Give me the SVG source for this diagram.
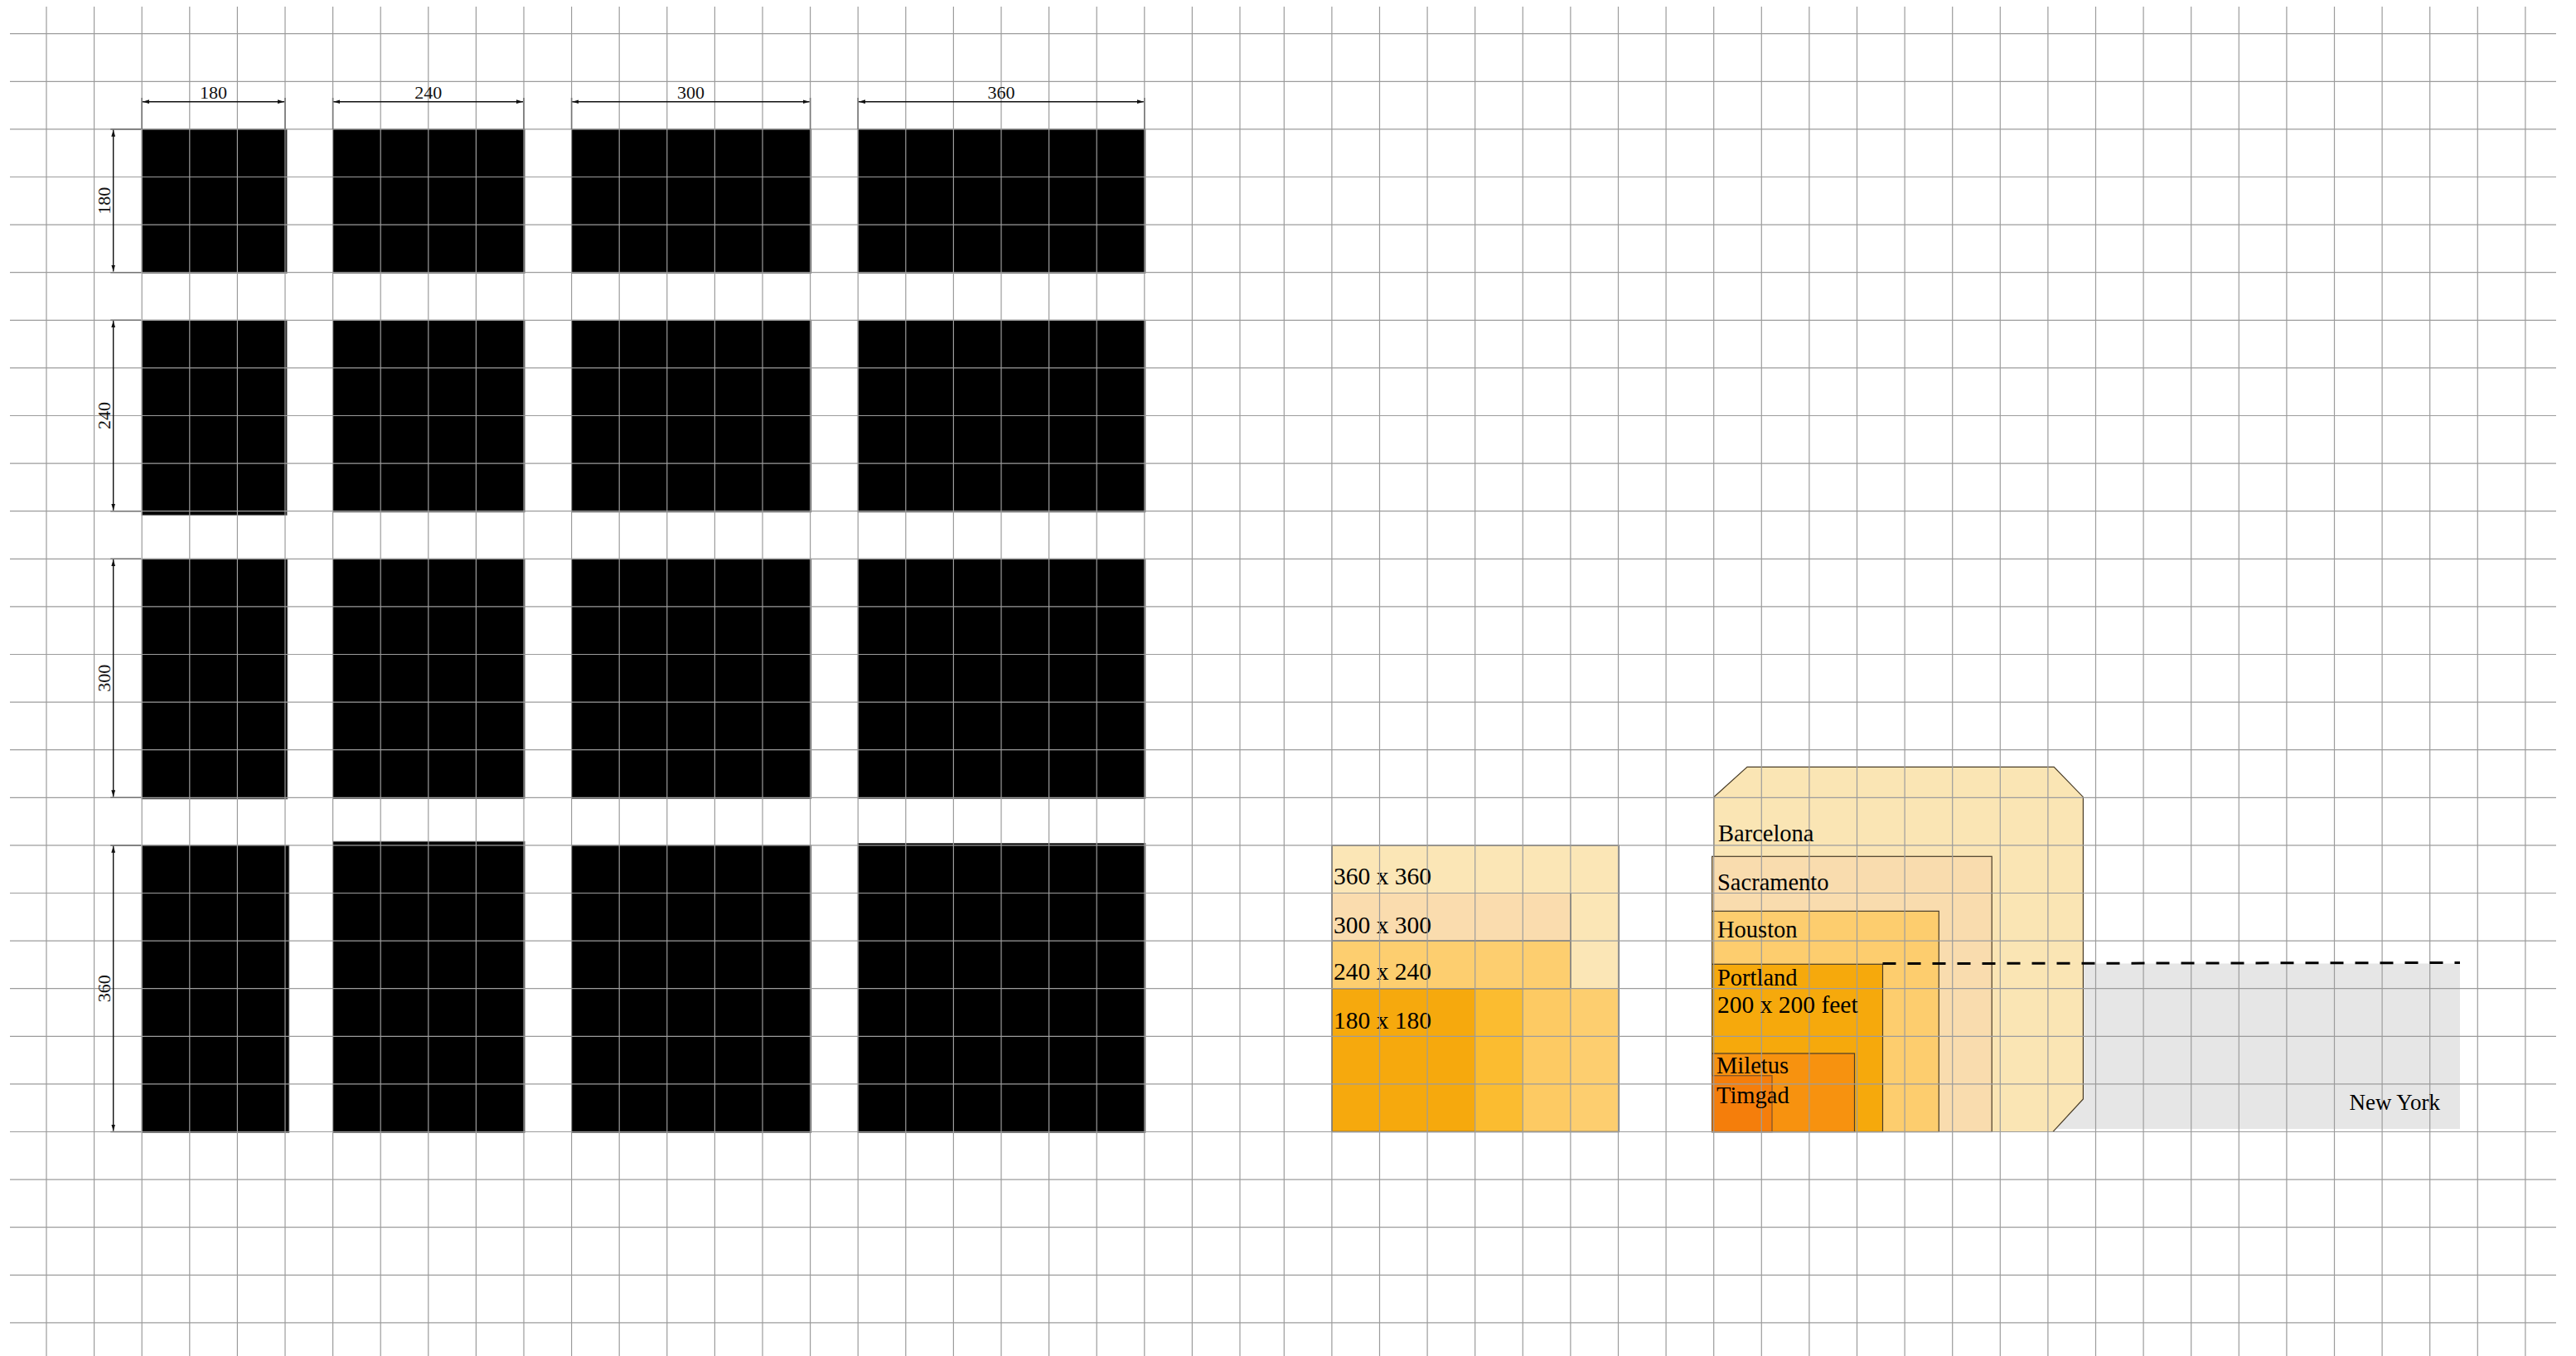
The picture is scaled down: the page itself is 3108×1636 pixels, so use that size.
<svg xmlns="http://www.w3.org/2000/svg" width="3108" height="1636" viewBox="0 0 3108 1636">
<style>
.lbl{font-family:"Liberation Serif","Times New Roman",serif;font-size:28.5px;fill:#000}
.num{font-size:29.5px}
.dim{font-family:"Liberation Serif","Times New Roman",serif;font-size:22px;fill:#111;text-anchor:middle}
.blk{fill:#000;stroke:#555;stroke-width:1}
.ext{stroke:#777;stroke-width:1.6;fill:none}
.dl{stroke:#111;stroke-width:1.4;fill:none;marker-start:url(#ah);marker-end:url(#ah)}
.box{stroke:#4a3d28;stroke-width:1.2}
.grid line{stroke:#9c9c9c;stroke-width:1.2}
</style>
<defs>
<marker id="ah" viewBox="0 0 10 6" refX="10" refY="3" markerWidth="8" markerHeight="5" markerUnits="userSpaceOnUse" orient="auto-start-reverse">
<path d="M0,0 L10,3 L0,6 z" fill="#111"/>
</marker>
</defs>
<rect x="0" y="0" width="3108" height="1636" fill="#fff"/>

<g id="blocks">
<rect class="blk" x="171.2" y="155.9" width="174.8" height="173.6"/>
<rect class="blk" x="401.6" y="155.9" width="231.4" height="173.6"/>
<rect class="blk" x="689.6" y="155.9" width="289" height="173.6"/>
<rect class="blk" x="1035.2" y="155.9" width="346.6" height="173.6"/>

<rect class="blk" x="171.2" y="386.3" width="174.8" height="235"/>
<rect class="blk" x="401.6" y="386.3" width="231.4" height="231.4"/>
<rect class="blk" x="689.6" y="386.3" width="289" height="231.4"/>
<rect class="blk" x="1035.2" y="386.3" width="346.6" height="231.4"/>

<rect class="blk" x="171.2" y="674.3" width="175.5" height="289.5"/>
<rect class="blk" x="401.6" y="674.3" width="231.4" height="289"/>
<rect class="blk" x="689.6" y="674.3" width="289" height="289"/>
<rect class="blk" x="1035.2" y="674.3" width="346.6" height="289"/>

<rect class="blk" x="171.2" y="1019.9" width="177.5" height="346.4"/>
<rect class="blk" x="401.6" y="1015.3" width="231.4" height="351"/>
<rect class="blk" x="689.6" y="1019.9" width="289" height="346.4"/>
<rect class="blk" x="1035.2" y="1017.5" width="346.6" height="348.8"/>
</g>

<g id="squares-left">
<rect x="1607" y="1019.9" width="346" height="345.6" fill="#FBE6B6"/>
<rect x="1607" y="1077.5" width="288" height="57.6" fill="#FADCAE"/>
<rect x="1607" y="1135.1" width="288" height="57.6" fill="#FDCE6F"/>
<rect x="1607" y="1192.7" width="172.8" height="172.8" fill="#F6A90D"/>
<rect x="1779.8" y="1192.7" width="57.6" height="172.8" fill="#FBBC30"/>
<rect x="1837.4" y="1192.7" width="57.6" height="172.8" fill="#FDCA63"/>
<rect x="1895" y="1192.7" width="58" height="172.8" fill="#FDCE6F"/>
<path d="M1607,1019.9 H1953 V1365.5 H1607 Z" fill="none" stroke="#444" stroke-width="1.4"/>
<path d="M1607,1077.5 H1895 V1192.7 M1607,1135.1 H1895 M1607,1192.7 H1895" fill="none" stroke="#333" stroke-width="1.2"/>
<text class="lbl num" x="1609" y="1066.7">360 x 360</text>
<text class="lbl num" x="1609" y="1126">300 x 300</text>
<text class="lbl num" x="1609" y="1181.7">240 x 240</text>
<text class="lbl num" x="1609" y="1240.7">180 x 180</text>
</g>

<g id="cities">
<rect id="new-york" x="2271.5" y="1162.5" width="696.5" height="199.5" fill="#E6E6E6"/>
<polygon id="barcelona" class="box" points="2067.7,961.7 2108,925.3 2478.2,925.3 2513.4,961.7 2513.4,1326 2477,1365.5 2067.7,1365.5" fill="#FAE5B4"/>
<rect id="sacramento" class="box" x="2065.6" y="1033.3" width="337.6" height="332.2" fill="#F9DCAE"/>
<rect id="houston" class="box" x="2065.6" y="1099.3" width="273.7" height="266.2" fill="#FDCD6E"/>
<rect id="portland" class="box" x="2065.6" y="1163.3" width="205.9" height="202.2" fill="#F6A90C"/>
<rect id="miletus" class="box" x="2065.6" y="1271" width="171.9" height="94.5" fill="#F7920F"/>
<rect id="timgad" x="2065.6" y="1297.7" width="72.4" height="67.8" fill="#F57E0B" stroke="#8a5a2a" stroke-width="1.4"/>
</g>

<g id="grid" class="grid">
<line x1="56" y1="8" x2="56" y2="1636"/>
<line x1="113.6" y1="8" x2="113.6" y2="1636"/>
<line x1="171.2" y1="8" x2="171.2" y2="1636"/>
<line x1="228.8" y1="8" x2="228.8" y2="1636"/>
<line x1="286.4" y1="8" x2="286.4" y2="1636"/>
<line x1="344" y1="8" x2="344" y2="1636"/>
<line x1="401.6" y1="8" x2="401.6" y2="1636"/>
<line x1="459.2" y1="8" x2="459.2" y2="1636"/>
<line x1="516.8" y1="8" x2="516.8" y2="1636"/>
<line x1="574.4" y1="8" x2="574.4" y2="1636"/>
<line x1="632" y1="8" x2="632" y2="1636"/>
<line x1="689.6" y1="8" x2="689.6" y2="1636"/>
<line x1="747.2" y1="8" x2="747.2" y2="1636"/>
<line x1="804.8" y1="8" x2="804.8" y2="1636"/>
<line x1="862.4" y1="8" x2="862.4" y2="1636"/>
<line x1="920" y1="8" x2="920" y2="1636"/>
<line x1="977.6" y1="8" x2="977.6" y2="1636"/>
<line x1="1035.2" y1="8" x2="1035.2" y2="1636"/>
<line x1="1092.8" y1="8" x2="1092.8" y2="1636"/>
<line x1="1150.4" y1="8" x2="1150.4" y2="1636"/>
<line x1="1208" y1="8" x2="1208" y2="1636"/>
<line x1="1265.6" y1="8" x2="1265.6" y2="1636"/>
<line x1="1323.2" y1="8" x2="1323.2" y2="1636"/>
<line x1="1380.8" y1="8" x2="1380.8" y2="1636"/>
<line x1="1438.4" y1="8" x2="1438.4" y2="1636"/>
<line x1="1496" y1="8" x2="1496" y2="1636"/>
<line x1="1549.3" y1="8" x2="1549.3" y2="1636"/>
<line x1="1606.9" y1="8" x2="1606.9" y2="1636"/>
<line x1="1664.5" y1="8" x2="1664.5" y2="1636"/>
<line x1="1722.1" y1="8" x2="1722.1" y2="1636"/>
<line x1="1779.7" y1="8" x2="1779.7" y2="1636"/>
<line x1="1837.3" y1="8" x2="1837.3" y2="1636"/>
<line x1="1894.9" y1="8" x2="1894.9" y2="1636"/>
<line x1="1952.5" y1="8" x2="1952.5" y2="1636"/>
<line x1="2010.1" y1="8" x2="2010.1" y2="1636"/>
<line x1="2067.7" y1="8" x2="2067.7" y2="1636"/>
<line x1="2125.3" y1="8" x2="2125.3" y2="1636"/>
<line x1="2182.9" y1="8" x2="2182.9" y2="1636"/>
<line x1="2240.5" y1="8" x2="2240.5" y2="1636"/>
<line x1="2298.1" y1="8" x2="2298.1" y2="1636"/>
<line x1="2355.7" y1="8" x2="2355.7" y2="1636"/>
<line x1="2413.3" y1="8" x2="2413.3" y2="1636"/>
<line x1="2470.9" y1="8" x2="2470.9" y2="1636"/>
<line x1="2528.5" y1="8" x2="2528.5" y2="1636"/>
<line x1="2586.1" y1="8" x2="2586.1" y2="1636"/>
<line x1="2643.7" y1="8" x2="2643.7" y2="1636"/>
<line x1="2701.3" y1="8" x2="2701.3" y2="1636"/>
<line x1="2758.9" y1="8" x2="2758.9" y2="1636"/>
<line x1="2816.5" y1="8" x2="2816.5" y2="1636"/>
<line x1="2874.1" y1="8" x2="2874.1" y2="1636"/>
<line x1="2931.7" y1="8" x2="2931.7" y2="1636"/>
<line x1="2989.3" y1="8" x2="2989.3" y2="1636"/>
<line x1="3046.9" y1="8" x2="3046.9" y2="1636"/>
<line x1="12" y1="40.7" x2="3084" y2="40.7"/>
<line x1="12" y1="98.3" x2="3084" y2="98.3"/>
<line x1="12" y1="155.9" x2="3084" y2="155.9"/>
<line x1="12" y1="213.5" x2="3084" y2="213.5"/>
<line x1="12" y1="271.1" x2="3084" y2="271.1"/>
<line x1="12" y1="328.7" x2="3084" y2="328.7"/>
<line x1="12" y1="386.3" x2="3084" y2="386.3"/>
<line x1="12" y1="443.9" x2="3084" y2="443.9"/>
<line x1="12" y1="501.5" x2="3084" y2="501.5"/>
<line x1="12" y1="559.1" x2="3084" y2="559.1"/>
<line x1="12" y1="616.7" x2="3084" y2="616.7"/>
<line x1="12" y1="674.3" x2="3084" y2="674.3"/>
<line x1="12" y1="731.9" x2="3084" y2="731.9"/>
<line x1="12" y1="789.5" x2="3084" y2="789.5"/>
<line x1="12" y1="847.1" x2="3084" y2="847.1"/>
<line x1="12" y1="904.7" x2="3084" y2="904.7"/>
<line x1="12" y1="962.3" x2="3084" y2="962.3"/>
<line x1="12" y1="1019.9" x2="3084" y2="1019.9"/>
<line x1="12" y1="1077.5" x2="3084" y2="1077.5"/>
<line x1="12" y1="1135.1" x2="3084" y2="1135.1"/>
<line x1="12" y1="1192.7" x2="3084" y2="1192.7"/>
<line x1="12" y1="1250.3" x2="3084" y2="1250.3"/>
<line x1="12" y1="1307.9" x2="3084" y2="1307.9"/>
<line x1="12" y1="1365.5" x2="3084" y2="1365.5"/>
<line x1="12" y1="1423.1" x2="3084" y2="1423.1"/>
<line x1="12" y1="1480.7" x2="3084" y2="1480.7"/>
<line x1="12" y1="1538.3" x2="3084" y2="1538.3"/>
<line x1="12" y1="1595.9" x2="3084" y2="1595.9"/>
</g>

<g id="connectors">
<line x1="2271.5" y1="1162.6" x2="2968" y2="1161.5" stroke="#000" stroke-width="3" stroke-dasharray="16 14"/>
<path class="ext" d="M171.2,118 V155.9 M344,118 V155.9 M401.6,118 V155.9 M632,118 V155.9 M689.6,118 V155.9 M977.6,118 V155.9 M1035.2,118 V155.9 M1380.8,118 V155.9"/>
<line class="dl" x1="172" y1="122.7" x2="343" y2="122.7"/>
<line class="dl" x1="402.4" y1="122.7" x2="631" y2="122.7"/>
<line class="dl" x1="690.4" y1="122.7" x2="976.6" y2="122.7"/>
<line class="dl" x1="1036" y1="122.7" x2="1379.8" y2="122.7"/>
<path class="ext" d="M133.3,155.9 H170 M133.3,328.7 H170 M133.3,386.3 H170 M133.3,616.7 H170 M133.3,674.3 H170 M133.3,962.3 H170 M133.3,1019.9 H170 M133.3,1365.5 H170"/>
<line class="dl" x1="136.7" y1="156.7" x2="136.7" y2="327.5"/>
<line class="dl" x1="136.7" y1="387.1" x2="136.7" y2="615.7"/>
<line class="dl" x1="136.7" y1="675.1" x2="136.7" y2="961.3"/>
<line class="dl" x1="136.7" y1="1020.7" x2="136.7" y2="1364.5"/>
</g>

<g id="dimension-labels">
<text class="dim" x="257.6" y="119">180</text>
<text class="dim" x="516.8" y="119">240</text>
<text class="dim" x="833.6" y="119">300</text>
<text class="dim" x="1208" y="119">360</text>
<text class="dim" transform="translate(133,242.3) rotate(-90)">180</text>
<text class="dim" transform="translate(133,501.5) rotate(-90)">240</text>
<text class="dim" transform="translate(133,818.3) rotate(-90)">300</text>
<text class="dim" transform="translate(133,1192.7) rotate(-90)">360</text>
</g>

<g id="city-labels">
<text class="lbl" x="2073" y="1015">Barcelona</text>
<text class="lbl" x="2072" y="1074">Sacramento</text>
<text class="lbl" x="2072" y="1131">Houston</text>
<text class="lbl" x="2072" y="1189">Portland</text>
<text class="lbl num" x="2072" y="1221.7">200 x 200 feet</text>
<text class="lbl" x="2071" y="1295">Miletus</text>
<text class="lbl" x="2071" y="1331">Timgad</text>
<text class="lbl" x="2944" y="1339" text-anchor="end" style="font-size:27px">New York</text>
</g>
</svg>
